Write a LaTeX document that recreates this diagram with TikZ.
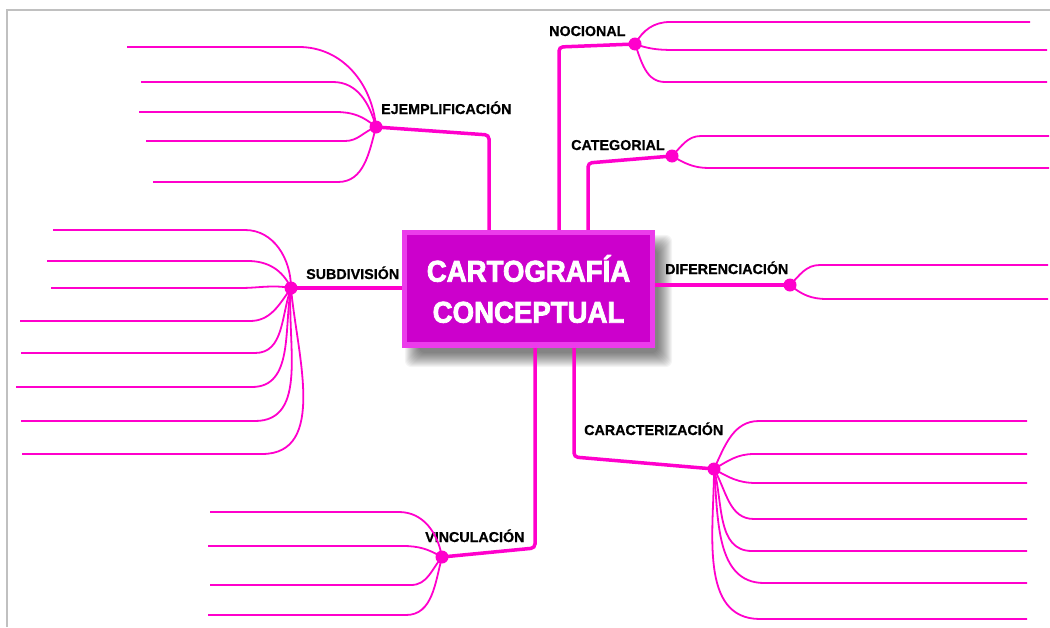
\documentclass[tikz,border=0pt]{standalone}
\usepackage{fontspec}
\newfontfamily\tagfont[FakeBold=0.6]{Liberation Sans}
\newfontfamily\titlefont[FakeStretch=0.92, FakeBold=2.5]{Liberation Sans}
\usetikzlibrary{backgrounds}
\definecolor{mapline}{RGB}{255,0,204}
\definecolor{boxpink}{RGB}{204,0,204}
\definecolor{boxedge}{RGB}{235,60,235}
\definecolor{rimgray}{RGB}{192,192,192}
\tikzset{
	trunk/.style={line width=3.5pt, color=mapline, rounded corners=4pt},
	twig/.style={line width=1.8pt, color=mapline},
	knot/.style={circle, fill=mapline, inner sep=0pt, minimum size=13pt},
	tag/.style={anchor=base west, inner sep=0pt, font=\tagfont\bfseries\fontsize{14.3}{16}\selectfont},
	titlebox/.style={rectangle, fill=boxedge, minimum width=253pt, minimum height=118pt,
		text=white, align=center, font=\titlefont\bfseries\fontsize{30}{41}\selectfont,
		path picture={\fill[boxpink] ([shift={(5pt,-5pt)}]path picture bounding box.north west)
			rectangle ([shift={(-5pt,6pt)}]path picture bounding box.south east);}},
}

\begin{document}
\begin{tikzpicture}[x=1pt, y=1pt]
			%%%%% START %%%%%
			\useasboundingbox (0,0) rectangle (1050,-627);
			\draw[rimgray, line width=2pt] (7,-627) -- (7,-10) -- (1050,-10);
			
			\node[titlebox] (carto) at (528.5,-289) {CARTOGRAF\'IA\\CONCEPTUAL};
			\begin{scope}[on background layer]
				\foreach \k in {-7,...,7}
					\fill[black, opacity=0.045, rounded corners=7pt] ([shift={(10-\k,-12-\k)}]carto.south west) rectangle ([shift={(10+\k,-12+\k)}]carto.north east);
			\end{scope}
			
			\node[knot] (noc) at (635,-44) {};
			\node[knot] (cat) at (672,-156) {};
			\node[knot] (ej) at (376,-127) {};
			\node[knot] (sub) at (291,-288) {};
			\node[knot] (dif) at (790,-285) {};
			\node[knot] (car) at (714,-469) {};
			\node[knot] (vin) at (442,-557) {};
			
			\node[tag] at (549,-36) {NOCIONAL};
			\node[tag] at (571,-150) {CATEGORIAL};
			\node[tag] at (381,-114) {EJEMPLIFICACI\'ON};
			\node[tag] at (306,-279) {SUBDIVISI\'ON};
			\node[tag] at (665,-274) {DIFERENCIACI\'ON};
			\node[tag] at (584,-435) {CARACTERIZACI\'ON};
			\node[tag] at (425,-542) {VINCULACI\'ON};
			
			% trunks
			\coordinate (noc-k) at (559,-47);
			\coordinate (cat-k) at (588,-163);
			\coordinate (ej-k) at (489,-135);
			\coordinate (car-k) at (574,-457);
			\coordinate (vin-k) at (535,-548);
			\draw[trunk] (noc.center) -- (noc-k) -- (noc-k |- carto.north);
			\draw[trunk] (cat.center) -- (cat-k) -- (cat-k |- carto.north);
			\draw[trunk] (ej.center) -- (ej-k) -- (ej-k |- carto.north);
			\draw[trunk] (sub.center) -- (sub.center -| carto.west);
			\draw[trunk] (carto.east |- dif.center) -- (dif.center);
			\draw[trunk] (car-k |- carto.south) -- (car-k) -- (car.center);
			\draw[trunk] (vin-k |- carto.south) -- (vin-k) -- (vin.center);
			
			% twigs, left side
			\foreach \o/\sx/\sy/\ex [count=\i] in {95/299/47/127, 105/333/82/141, 140/336/112/139, 200/345/141/146, 255/338/182/153} {
				\coordinate (ej-s\i) at (\sx,-\sy);
				\coordinate (ej-e\i) at (\ex,-\sy);
				\draw[twig] (ej.center) to[out=\o,in=0] (ej-s\i) -- (ej-e\i);
			}
			\foreach \o/\sx/\sy/\ex [count=\i] in {90/245/230/53, 115/248/261/47, 170/240/288/51, 235/250/321/20, 250/255/353/21, 260/252/387/16, 265/255/421/21, 275/262/454/22} {
				\coordinate (sub-s\i) at (\sx,-\sy);
				\coordinate (sub-e\i) at (\ex,-\sy);
				\draw[twig] (sub.center) to[out=\o,in=0] (sub-s\i) -- (sub-e\i);
			}
			\foreach \o/\sx/\sy/\ex [count=\i] in {100/399/512/210, 150/403/546/208, 230/411/585/210, 255/406/615/208} {
				\coordinate (vin-s\i) at (\sx,-\sy);
				\coordinate (vin-e\i) at (\ex,-\sy);
				\draw[twig] (vin.center) to[out=\o,in=0] (vin-s\i) -- (vin-e\i);
			}
			
			% twigs, right side
			\foreach \o/\sx/\sy/\ex [count=\i] in {60/670/22/1030, -20/679/50/1047, -70/665/82/1047} {
				\coordinate (noc-s\i) at (\sx,-\sy);
				\coordinate (noc-e\i) at (\ex,-\sy);
				\draw[twig] (noc.center) to[out=\o,in=180] (noc-s\i) -- (noc-e\i);
			}
			\foreach \o/\sx/\sy/\ex [count=\i] in {45/701/136/1049, -30/709/168/1049} {
				\coordinate (cat-s\i) at (\sx,-\sy);
				\coordinate (cat-e\i) at (\ex,-\sy);
				\draw[twig] (cat.center) to[out=\o,in=180] (cat-s\i) -- (cat-e\i);
			}
			\foreach \o/\sx/\sy/\ex [count=\i] in {45/820/265/1048, -40/827/299/1048} {
				\coordinate (dif-s\i) at (\sx,-\sy);
				\coordinate (dif-e\i) at (\ex,-\sy);
				\draw[twig] (dif.center) to[out=\o,in=180] (dif-s\i) -- (dif-e\i);
			}
			\foreach \o/\sx/\sy/\ex [count=\i] in {65/759/421/1027, 30/754/454/1027, -30/756/483/1027, -60/754/519/1027, -75/752/551/1027, -85/764/583/1027, -90/760/619/1027} {
				\coordinate (car-s\i) at (\sx,-\sy);
				\coordinate (car-e\i) at (\ex,-\sy);
				\draw[twig] (car.center) to[out=\o,in=180] (car-s\i) -- (car-e\i);
			}
			%%%%% END %%%%%
\end{tikzpicture}
\end{document}
